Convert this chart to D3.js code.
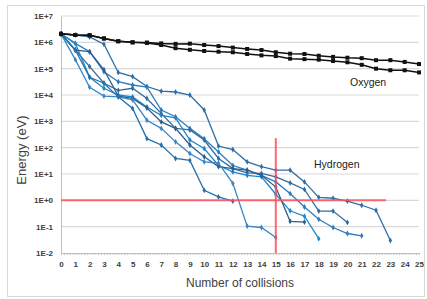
<!DOCTYPE html>
<html>
<head>
<meta charset="utf-8">
<script src="https://cdn.jsdelivr.net/npm/d3@7"></script>
<style>
    body { margin: 0; background: #fff; }
    text { font-family: "Liberation Sans", Arial, sans-serif; }
</style>
</head>
<body>
<script>
(function(){

//collision numbers for oxygen (0..25)
var oxygenSteps = d3.range(0, 26);

//oxygen energies (eV), two runs
var oxygenRun1 = [2.1e6, 1.9e6, 1.85e6, 1.4e6, 1.1e6, 1.0e6, 9.8e5, 9.1e5, 8.7e5, 8.9e5, 7.9e5, 7.2e5, 6.3e5,
    5.6e5, 5.1e5, 4.2e5, 3.7e5, 3.6e5, 3.1e5, 2.8e5, 2.6e5, 2.5e5, 2.1e5, 2.1e5, 1.8e5, 1.5e5];
var oxygenRun2 = [2.1e6, 1.9e6, 1.85e6, 1.4e6, 1.1e6, 1.0e6, 9.5e5, 7.9e5, 6.0e5, 5.2e5, 4.7e5, 4.4e5, 4.2e5,
    3.6e5, 3.2e5, 3.0e5, 2.4e5, 2.3e5, 2.2e5, 1.95e5, 1.75e5, 1.4e5, 1.0e5, 8.7e4, 8.7e4, 7.2e4];

//hydrogen energies (eV), one list per run, index = number of collisions
var hydrogenRuns = [
    [2.1e6, 1.9e6, 1.6e6, 8.5e5, 7.2e4, 5.0e4, 2.1e4, 1.4e4, 1.3e4, 1.0e4, 2.7e3, 115, 85, 29, 19, 14, 14, 5, 1.3, 1.2, 0.93, 0.65, 0.42, 0.03],
    [2.1e6, 9.1e5, 4.4e5, 7.6e4, 3.2e4, 2.4e4, 2.0e4, 2.7e3, 1.5e3, 540, 220, 69, 21, 14, 8.9, 5.0, 1.8, 0.56, 0.19, 0.093, 0.055, 0.045],
    [2.1e6, 5.1e5, 1.2e5, 2.8e4, 1.5e4, 1.8e4, 7.4e3, 2.0e3, 540, 470, 195, 39, 16, 11, 10.5, 7.8, 4.6, 2.6, 0.39, 0.39, 0.145],
    [2.1e6, 9.1e5, 4.7e4, 1.8e4, 1.0e4, 8.5e3, 3.5e3, 1.7e3, 1.35e3, 195, 93, 21, 12, 8.9, 7.8, 1.7, 0.40, 0.25, 0.035],
    [2.1e6, 5.1e5, 4.4e5, 9.1e4, 9.1e3, 7.4e3, 3.2e3, 950, 540, 126, 45, 19, 16, 14, 8.9, 3.2, 0.16, 0.15],
    [2.1e6, 2.2e5, 1.95e4, 9.1e3, 8.5e3, 6.5e3, 1.1e3, 540, 166, 60, 29, 26, 4.4, 0.105, 0.093, 0.039],
    [2.1e6, 5.1e5, 4.7e4, 2.8e4, 8.5e3, 3.1e3, 220, 126, 39, 33, 2.4, 1.35, 0.93]
];
var hydrogenColors = ["#2f6ea5", "#2b7bbd", "#336c9c", "#1f86c9", "#2d5f8f", "#3a86c6", "#2570ad"];

//axis ticks
var xTicks = d3.range(0, 26);
var yTicks = [1e7, 1e6, 1e5, 1e4, 1e3, 1e2, 1e1, 1e0, 1e-1, 1e-2];
var yTickLabels = ["1E+7", "1E+6", "1E+5", "1E+4", "1E+3", "1E+2", "1E+1", "1E+0", "1E-1", "1E-2"];

//red guide lines: 1 eV level and 15th collision
var guideEnergy = 1, guideEnergyEnd = 22.7;
var guideStep = 15, guideStepTop = 230;

var width = 427,
    height = 299;

var svg = d3.select("body")
    .append("svg")
    .attr("width", width)
    .attr("height", height);

//chart frame
svg.append("rect")
    .attr("x", 7.5).attr("y", 5.5)
    .attr("width", 417).attr("height", 291)
    .attr("fill", "#fff")
    .attr("stroke", "#d9d9d9");

var x = d3.scaleLinear().domain([0, 25]).range([61, 419]);
var y = d3.scaleLog().domain([1e-2, 1e7]).range([253, 16]);

//horizontal gridlines
svg.selectAll(".grid")
    .data(yTicks.slice(0, -1))
    .enter()
    .append("line")
    .attr("x1", x(0)).attr("x2", x(25))
    .attr("y1", function(d){ return y(d); })
    .attr("y2", function(d){ return y(d); })
    .attr("stroke", "#d9d9d9")
    .attr("stroke-width", 1.2);

//y axis
var yAxis = d3.axisLeft(y)
    .tickValues(yTicks)
    .tickSize(0)
    .tickPadding(8)
    .tickFormat(function(d, i){ return yTickLabels[i]; });
var gy = svg.append("g")
    .attr("transform", "translate(" + x(0) + ",0)")
    .call(yAxis);
gy.select(".domain").attr("stroke", "#bfbfbf");
gy.selectAll("text")
    .attr("fill", "#404040")
    .style("font-size", "8px")
    .style("font-weight", "bold");

//x axis with minor ticks
var minorAxis = d3.axisBottom(x)
    .tickValues(d3.range(0, 25.01, 0.2))
    .tickSize(2)
    .tickFormat("");
var gm = svg.append("g")
    .attr("transform", "translate(0," + y(1e-2) + ")")
    .call(minorAxis);
gm.select(".domain").attr("stroke", "#bfbfbf");
gm.selectAll(".tick line").attr("stroke", "#bfbfbf");

var xAxis = d3.axisBottom(x)
    .tickValues(xTicks)
    .tickSize(0)
    .tickPadding(8)
    .tickFormat(d3.format("d"));
var gx = svg.append("g")
    .attr("transform", "translate(0," + y(1e-2) + ")")
    .call(xAxis);
gx.select(".domain").remove();
gx.selectAll("text")
    .attr("fill", "#404040")
    .style("font-size", "8px")
    .style("font-weight", "bold");

//axis titles
svg.append("text")
    .attr("x", 240).attr("y", 287)
    .attr("text-anchor", "middle")
    .attr("fill", "#404040")
    .style("font-size", "12px")
    .text("Number of collisions");

svg.append("text")
    .attr("transform", "translate(26,150) rotate(-90)")
    .attr("text-anchor", "middle")
    .attr("fill", "#404040")
    .style("font-size", "13px")
    .text("Energy (eV)");

var line = d3.line()
    .x(function(d, i){ return x(i); })
    .y(function(d){ return y(d); });

//hydrogen runs
hydrogenRuns.forEach(function(run, k){
    var c = hydrogenColors[k];
    svg.append("path")
        .datum(run)
        .attr("d", line)
        .attr("fill", "none")
        .attr("stroke", c)
        .attr("stroke-width", 1.3);
    svg.selectAll(".h" + k)
        .data(run)
        .enter()
        .append("path")
        .attr("class", "h" + k)
        .attr("d", d3.symbol().type(d3.symbolDiamond).size(10))
        .attr("transform", function(d, i){ return "translate(" + x(i) + "," + y(d) + ")"; })
        .attr("fill", c);
});

//oxygen runs
[oxygenRun1, oxygenRun2].forEach(function(run, k){
    svg.append("path")
        .datum(run)
        .attr("d", line)
        .attr("fill", "none")
        .attr("stroke", "#111")
        .attr("stroke-width", 1.5);
    svg.selectAll(".o" + k)
        .data(run)
        .enter()
        .append("rect")
        .attr("class", "o" + k)
        .attr("x", function(d, i){ return x(oxygenSteps[i]) - 2; })
        .attr("y", function(d){ return y(d) - 2; })
        .attr("width", 4).attr("height", 4)
        .attr("fill", "#111");
});

//red guide lines
svg.append("line")
    .attr("x1", x(0)).attr("x2", x(guideEnergyEnd))
    .attr("y1", y(guideEnergy)).attr("y2", y(guideEnergy))
    .attr("stroke", "#ff4d5a")
    .attr("stroke-opacity", 0.85)
    .attr("stroke-width", 2);
svg.append("line")
    .attr("x1", x(guideStep)).attr("x2", x(guideStep))
    .attr("y1", y(guideStepTop)).attr("y2", y(1e-2))
    .attr("stroke", "#ff4d5a")
    .attr("stroke-opacity", 0.85)
    .attr("stroke-width", 2);

//series labels
svg.append("text")
    .attr("x", 350).attr("y", 86)
    .attr("fill", "#222")
    .style("font-size", "10.5px")
    .text("Oxygen");
svg.append("text")
    .attr("x", 314).attr("y", 168)
    .attr("fill", "#222")
    .style("font-size", "10.5px")
    .text("Hydrogen");

})();
</script>
</body>
</html>
